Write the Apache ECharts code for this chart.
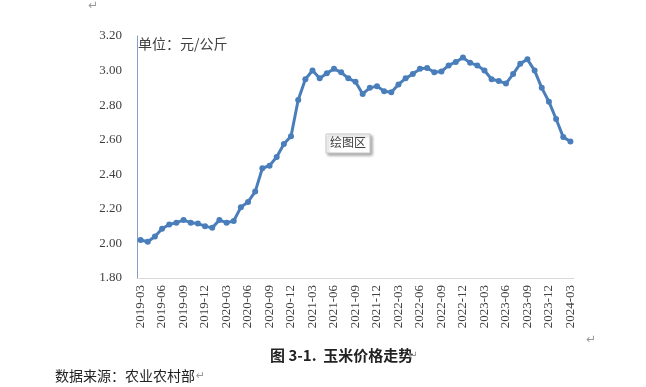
<!DOCTYPE html>
<html><head><meta charset="utf-8">
<script src="https://cdn.jsdelivr.net/npm/echarts@6/dist/echarts.min.js"></script>
<style>html,body{margin:0;padding:0;background:#fff}#c{width:646px;height:387px}</style>
</head><body><div id="c"></div>
<script>
const months = [];
for (let y = 2019; y <= 2024; y++) {
  for (let m = 1; m <= 12; m++) {
    if ((y === 2019 && m < 3) || (y === 2024 && m > 3)) continue;
    months.push(y + '-' + String(m).padStart(2, '0'));
  }
}
const prices = [
  2.02, 2.01, 2.04, 2.085, 2.11, 2.12, 2.135, 2.12, 2.115, 2.10,
  2.09, 2.135, 2.12, 2.13, 2.21, 2.24, 2.30, 2.435, 2.45, 2.50,
  2.575, 2.62, 2.83, 2.95, 3.00, 2.955, 2.985, 3.01, 2.99, 2.955,
  2.935, 2.865, 2.90, 2.91, 2.88, 2.875, 2.92, 2.955, 2.98, 3.01,
  3.015, 2.99, 2.995, 3.03, 3.05, 3.075, 3.045, 3.03, 3.00, 2.95,
  2.94, 2.925, 2.98, 3.04, 3.065, 3.00, 2.90, 2.82, 2.72, 2.615,
  2.59
];
const yTicks = [1.8, 3.2, 0.2];
const unitText = '单位：元/公斤';
const titleText = '图 3-1.  玉米价格走势';
const sourceText = '数据来源：农业农村部';

const chart = echarts.init(document.getElementById('c'));
chart.setOption({
  animation: false,
  grid: { left: 137, right: 72, top: 36, bottom: 109 },
  xAxis: {
    type: 'category', data: months, boundaryGap: true,
    axisLine: { lineStyle: { color: '#d9d9d9', width: 1 } },
    axisTick: { show: false },
    axisLabel: {
      rotate: 90, interval: 2, color: '#404040', fontSize: 13,
      fontFamily: 'Liberation Serif, serif', margin: 7
    },
    splitLine: { show: false }
  },
  yAxis: {
    type: 'value', min: yTicks[0], max: yTicks[1], interval: yTicks[2],
    axisLine: { show: true, lineStyle: { color: '#7f9fcf', width: 1 } },
    axisTick: { show: false },
    splitLine: { show: false },
    axisLabel: {
      color: '#404040', fontSize: 13, margin: 15,
      fontFamily: 'Liberation Serif, serif',
      formatter: v => v.toFixed(2)
    }
  },
  series: [{
    type: 'line', data: prices,
    symbol: 'circle', symbolSize: 6, showAllSymbol: true,
    lineStyle: { color: '#4a7ebb', width: 3 },
    itemStyle: { color: '#4a7ebb' }
  }],
  graphic: [
    { type: 'text', left: 138, top: 37, style: { text: unitText, fill: '#404040', font: '14px "Noto Sans CJK SC", sans-serif' } },
    { type: 'rect', shape: { x: 326, y: 134, width: 44, height: 19 },
      style: { fill: '#fff', stroke: '#c8c8c8', lineWidth: 1, shadowBlur: 3, shadowOffsetX: 2, shadowOffsetY: 2, shadowColor: 'rgba(0,0,0,0.35)' } },
    { type: 'text', left: 330, top: 136, style: { text: '绘图区', fill: '#404040', font: '12px "Noto Sans CJK SC", sans-serif' } },
    { type: 'text', left: 270, top: 348, style: { text: titleText, fill: '#222', font: 'bold 15px "Noto Sans CJK SC", sans-serif' } },
    { type: 'text', left: 408, top: 350, style: { text: '↵', fill: '#999', font: '12px "DejaVu Sans", sans-serif' } },
    { type: 'text', left: 55, top: 369, style: { text: sourceText, fill: '#222', font: '14px "Noto Sans CJK SC", serif' } },
    { type: 'text', left: 196, top: 371, style: { text: '↵', fill: '#999', font: '11px "DejaVu Sans", sans-serif' } },
    { type: 'text', left: 88, top: 0, style: { text: '↵', fill: '#999', font: '12px "DejaVu Sans", sans-serif' } },
    { type: 'text', left: 586, top: 334, style: { text: '↵', fill: '#999', font: '12px "DejaVu Sans", sans-serif' } }
  ]
});
</script></body></html>
